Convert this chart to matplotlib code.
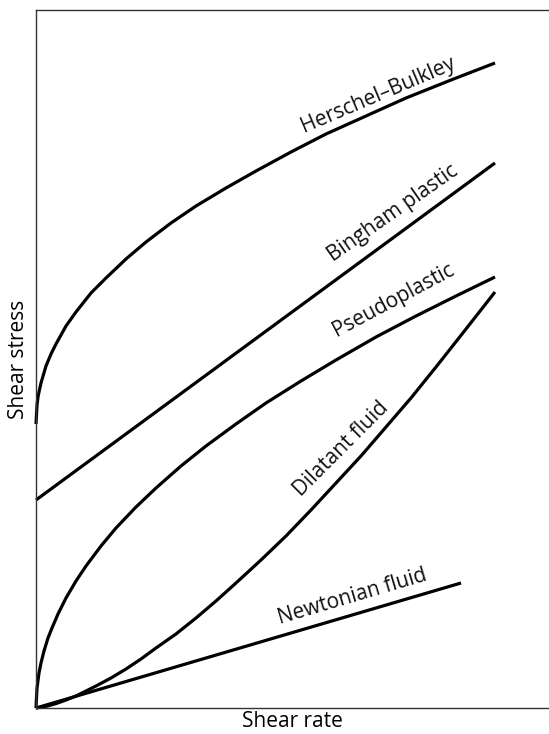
# Flow curves for Newtonian and non-Newtonian fluids (shear stress vs shear rate)

import matplotlib.pyplot as plt

plt.rcParams['font.family'] = ['Open Sans', 'DejaVu Sans']

# shear rate / shear stress in arbitrary units
hb_rate = [0, 1, 2, 3, 5, 10, 15, 20, 30, 40, 55, 70, 90, 110, 135, 160,
           190, 220, 255, 290, 330, 370, 415, 459]
hb_stress = [284, 303, 311, 316, 325, 342, 354, 364, 382, 396, 415, 430, 449,
             466, 485, 502, 520, 537, 556, 574, 592, 610, 628, 645]

bingham_rate = [0, 459]
bingham_stress = [208, 545]

pseudo_rate = [0, 1, 3, 5, 8, 12, 16, 22, 30, 40, 50, 65, 80, 100, 120, 145,
               170, 200, 230, 265, 300, 340, 380, 420, 459]
pseudo_stress = [0, 20, 35, 45, 57, 70, 80, 94, 110, 127, 142, 162, 180, 201,
                 220, 242, 262, 284, 305, 327, 348, 371, 392, 412, 431]

dilatant_rate = [0, 10, 20, 30, 40, 60, 75, 90, 105, 120, 140, 160, 180, 200,
                 225, 250, 275, 300, 325, 350, 375, 400, 430, 459]
dilatant_stress = [0, 1.6, 4.4, 8, 12, 22, 30, 39, 49, 60, 74, 90, 107, 125,
                   148, 172, 198, 225, 252, 281, 310, 341, 379, 416]

newton_rate = [0, 425]
newton_stress = [0, 125]

# label text, baseline centre (data units) and angle
labels = ['Herschel\u2013Bulkley', 'Bingham plastic', 'Pseudoplastic',
          'Dilatant fluid', 'Newtonian fluid']
label_x = [344, 360, 360, 309, 318]
label_y = [608, 490, 403, 255, 106]
label_rot = [23, 35, 28, 45, 16.5]

fig = plt.figure(figsize=(5.49, 7.34), dpi=100)
ax = fig.add_axes([36 / 549, 26 / 734, 513 / 549, 698 / 734])

for xs, ys in [(hb_rate, hb_stress), (bingham_rate, bingham_stress),
               (pseudo_rate, pseudo_stress), (dilatant_rate, dilatant_stress),
               (newton_rate, newton_stress)]:
    ax.plot(xs, ys, color='black', lw=2.3, solid_capstyle='butt',
            solid_joinstyle='round', clip_on=False)

for t, x, y, r in zip(labels, label_x, label_y, label_rot):
    ax.text(x, y, t, rotation=r, rotation_mode='anchor', ha='center',
            va='baseline', fontsize=15, color='#111111')

ax.set_xlim(0, 513)
ax.set_ylim(0, 698)
ax.set_xticks([])
ax.set_yticks([])
for side in ['left', 'bottom', 'top']:
    ax.spines[side].set_color('#333333')
    ax.spines[side].set_linewidth(1.0)
ax.spines['right'].set_visible(False)

ax.set_xlabel('Shear rate', fontsize=15, labelpad=2)
ax.set_ylabel('Shear stress', fontsize=15, labelpad=5)

plt.savefig('out.png', dpi=100)
